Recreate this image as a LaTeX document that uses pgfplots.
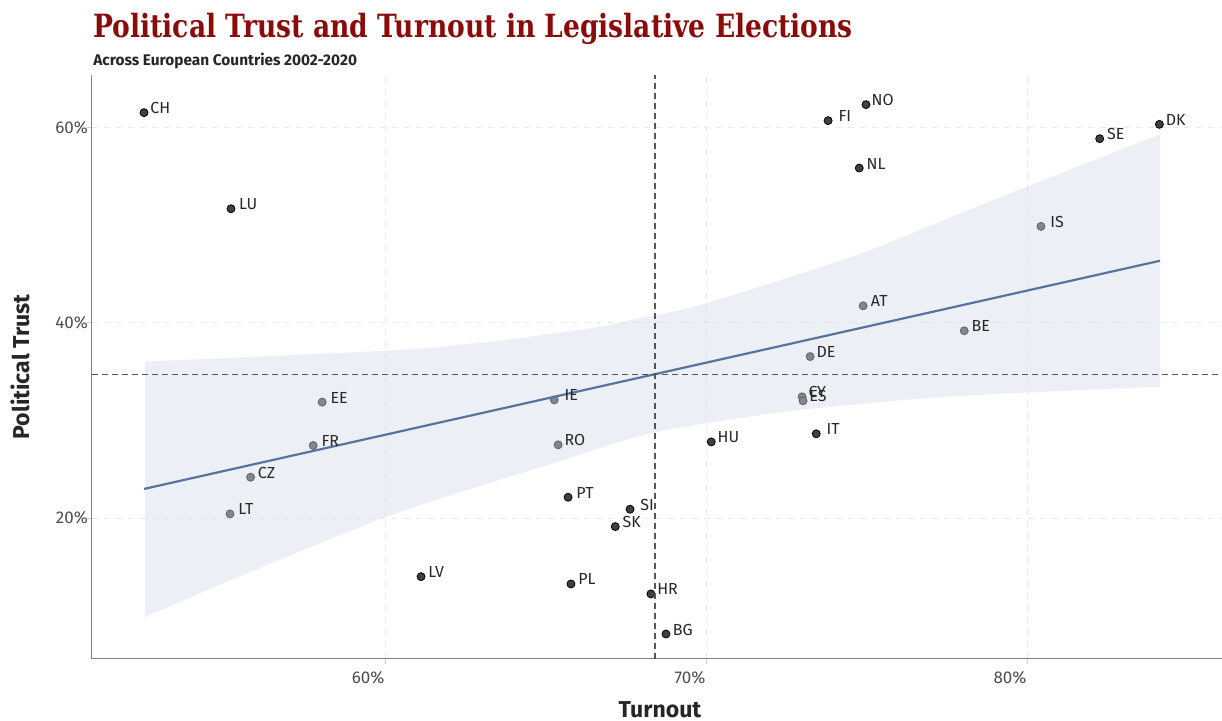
\documentclass[border=0pt]{standalone}
\usepackage{fontspec}
\setmainfont{Fira Sans}
\newfontfamily\titlefont[FakeStretch=0.83]{DejaVu Serif}
\usepackage{pgfplots}
\pgfplotsset{compat=1.18}
\usepgfplotslibrary{fillbetween}
\usepackage{pgfplotstable}

\definecolor{titlered}{RGB}{139,10,10}
\definecolor{ptcol}{RGB}{64,64,64}
\definecolor{bandcol}{RGB}{213,220,232}
\definecolor{fitcol}{RGB}{86,116,158}
\definecolor{gridcol}{RGB}{234,234,234}
\definecolor{axcol}{RGB}{128,128,128}
\definecolor{meancol}{RGB}{85,85,85}
\definecolor{labcol}{RGB}{40,40,40}
\definecolor{tickcol}{RGB}{77,77,77}

% turnout (%), political trust (%), country code, label offset (pt)
\pgfplotstableread{
x     y     lab dx
52.49 61.54 CH  3.0
55.20 51.69 LU  3.8
74.98 62.36 NO  2.6
73.80 60.72 FI  5.0
74.77 55.86 NL  3.5
84.12 60.34 DK  3.0
82.26 58.87 SE  3.5
80.43 49.88 IS  4.5
74.89 41.74 AT  3.7
78.04 39.18 BE  3.5
73.24 36.54 DE  3.0
72.99 32.41 CY  3.0
73.02 32.00 ES  3.0
73.43 28.62 IT  5.0
70.16 27.79 HU  3.0
65.27 32.10 IE  5.0
65.39 27.49 RO  3.0
58.04 31.87 EE  4.0
57.76 27.42 FR  4.0
55.81 24.17 CZ  3.5
55.17 20.41 LT  4.0
65.70 22.12 PT  4.0
67.63 20.89 SI  5.0
67.17 19.11 SK  3.5
61.12 13.98 LV  3.5
65.79 13.23 PL  3.5
68.28 12.21 HR  3.0
68.75  8.10 BG  3.3
}\countries

% upper and lower edge of the 95% confidence band
\pgfplotstableread{
x     y
52.52 36.03
60.06 37.16
63.18 38.04
66.51 39.50
67.94 40.48
70.00 42.00
74.70 46.97
77.60 50.80
79.94 53.90
84.14 59.30
}\bandup
\pgfplotstableread{
x     y
52.52  9.82
55.39 13.90
60.06 20.13
63.18 23.50
65.42 25.80
67.94 28.40
70.00 29.70
73.05 31.10
77.60 32.44
84.14 33.45
}\bandlo

\begin{document}
\begin{tikzpicture}
\begin{axis}[
  set layers,
  clip marker paths=true,
  scale only axis, width=565pt, height=292pt,
  xmin=50.87, xmax=86.07, ymin=5.54, ymax=65.4,
  axis x line*=bottom, axis y line*=left,
  axis line style={draw=axcol, line width=0.5pt},
  xtick={60,70,80}, xticklabels={60\%,70\%,80\%},
  ytick={20,40,60}, yticklabels={20\%,40\%,60\%},
  tick align=outside, major tick length=2.5pt,
  tick style={draw=black!20, line width=0.4pt},
  xticklabel style={anchor=north east, xshift=3.2pt,
    font=\fontsize{8.5}{10}\selectfont, text=tickcol},
  yticklabel style={anchor=east, xshift=4pt,
    font=\fontsize{8.5}{10}\selectfont, text=tickcol},
  grid=major, grid style={dashed, draw=gridcol, line width=0.4pt},
]
% countries, drawn below the confidence band so that it tints them
\addplot[on layer=pre main, only marks, mark=*, mark size=2pt,
  mark options={draw=none, fill=ptcol}]
  table[x=x, y=y] {\countries};

\addplot[name path=up, draw=none, smooth, tension=0.5] table[x=x, y=y] {\bandup};
\addplot[name path=lo, draw=none, smooth, tension=0.5] table[x=x, y=y] {\bandlo};
\addplot[fill=bandcol, fill opacity=0.45, draw=none] fill between[of=up and lo];

% linear fit
\addplot[fitcol, line width=1.1pt] coordinates {(52.49,22.97) (84.14,46.36)};

% averages
\addplot[meancol, line width=0.6pt, dash pattern=on 3pt off 2pt]
  coordinates {(50.87,34.67) (86.07,34.67)};
\addplot[meancol, line width=0.6pt, dash pattern=on 3pt off 2pt]
  coordinates {(68.41,5.54) (68.41,65.4)};

% country codes
\addplot[draw=none, mark=none, nodes near coords, point meta=explicit symbolic,
  visualization depends on={\thisrow{dx} \as \dx},
  every node near coord/.append style={anchor=base west, xshift=\dx pt,
    yshift=-0.5pt, inner sep=0pt, text=labcol,
    font=\fontsize{8}{9.6}\selectfont}]
  table[x=x, y=y, meta=lab] {\countries};
\end{axis}

\node[anchor=base west, text=titlered, inner sep=0pt]
  at (0.5pt,310.5pt) {\titlefont\bfseries\fontsize{16}{19}\selectfont Political Trust and Turnout in Legislative Elections};
\node[anchor=base west, text=black!85, inner sep=0pt]
  at (0.5pt,296.5pt) {\bfseries\fontsize{7.7}{9}\selectfont Across European Countries 2002-2020};
\node[anchor=base, text=black!85, inner sep=0pt]
  at (284pt,-29.3pt) {\bfseries\fontsize{11.5}{13}\selectfont Turnout};
\node[rotate=90, anchor=center, text=black!85, inner sep=0pt]
  at (-36pt,146pt) {\bfseries\fontsize{11.5}{13}\selectfont Political Trust};

\pgfresetboundingbox
\path[use as bounding box] (-46pt,-31pt) rectangle (565pt,329.5pt);
\end{tikzpicture}
\end{document}
